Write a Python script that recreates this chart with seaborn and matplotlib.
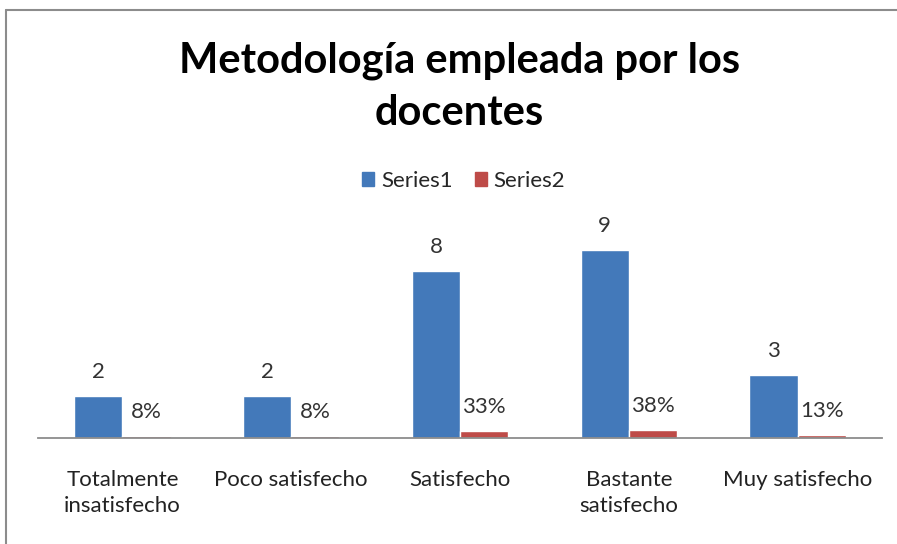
import matplotlib
matplotlib.use('Agg')
import matplotlib.pyplot as plt
from matplotlib.lines import Line2D
from matplotlib.patches import Rectangle
import pandas as pd
import seaborn as sns

# datos
categorias = ['Totalmente\ninsatisfecho', 'Poco satisfecho', 'Satisfecho',
              'Bastante\nsatisfecho', 'Muy satisfecho']
series1 = [2, 2, 8, 9, 3]
series2 = [0.08, 0.08, 0.33, 0.38, 0.13]
nombres_series = ['Series1', 'Series2']
titulo = 'Metodología empleada por los\ndocentes'

df = pd.DataFrame({
    'categoria': categorias * 2,
    'valor': series1 + series2,
    'serie': [nombres_series[0]] * len(categorias) + [nombres_series[1]] * len(categorias),
})

sns.set_style('white')
plt.rcParams['font.family'] = ['Lato', 'DejaVu Sans']

fig = plt.figure(figsize=(8.97, 5.44), dpi=100)
ax = fig.add_axes([38 / 897, 1 - 438 / 544, 844 / 897, 209 / 544])

sns.barplot(data=df, x='categoria', y='valor', hue='serie',
            palette=['#4379BA', '#BE4B48'], saturation=1, width=0.57,
            ax=ax, legend=False)

ax.set_ylim(0, 10)
ax.set_xlim(-0.5, len(categorias) - 0.5)

# etiquetas de datos
cont1, cont2 = ax.containers[0], ax.containers[1]
ax.bar_label(cont1, labels=[str(v) for v in series1], padding=10,
             fontsize=16, color='#333333')
ax.bar_label(cont2, labels=[f'{v:.0%}' for v in series2], padding=10,
             fontsize=16, color='#333333')

for s in ['top', 'right', 'left']:
    ax.spines[s].set_visible(False)
ax.spines['bottom'].set_color('#8c8c8c')
ax.spines['bottom'].set_linewidth(1.3)
ax.set_yticks([])
ax.set_xlabel('')
ax.set_ylabel('')
ax.tick_params(axis='x', length=0, pad=23, labelsize=16, labelcolor='#222222')
for t in ax.get_xticklabels():
    t.set_linespacing(1.4)

# leyenda
handles = [Rectangle((0, 0), 1, 1, color=c) for c in ['#4379BA', '#BE4B48']]
ax.legend(handles, nombres_series, loc='center', bbox_to_anchor=(0.517, 1 - 181 / 544),
          bbox_transform=fig.transFigure, ncol=2, frameon=False, fontsize=16,
          handlelength=0.55, handleheight=0.55, handletextpad=0.3, columnspacing=1.0)

fig.text(0.512, 1 - 87 / 544, titulo, ha='center', va='center', fontsize=30,
         fontweight='bold', linespacing=1.45, color='black')

# marco gris del grafico (solo arriba e izquierda se ven)
y_top = 1 - 9.5 / 544
x_left = 5.5 / 897
fig.add_artist(Line2D([x_left, 1.0], [y_top, y_top], transform=fig.transFigure,
                      color='#8c8c8c', linewidth=1.5))
fig.add_artist(Line2D([x_left, x_left], [0.0, y_top], transform=fig.transFigure,
                      color='#8c8c8c', linewidth=1.5))

fig.savefig('out.png', dpi=100)
